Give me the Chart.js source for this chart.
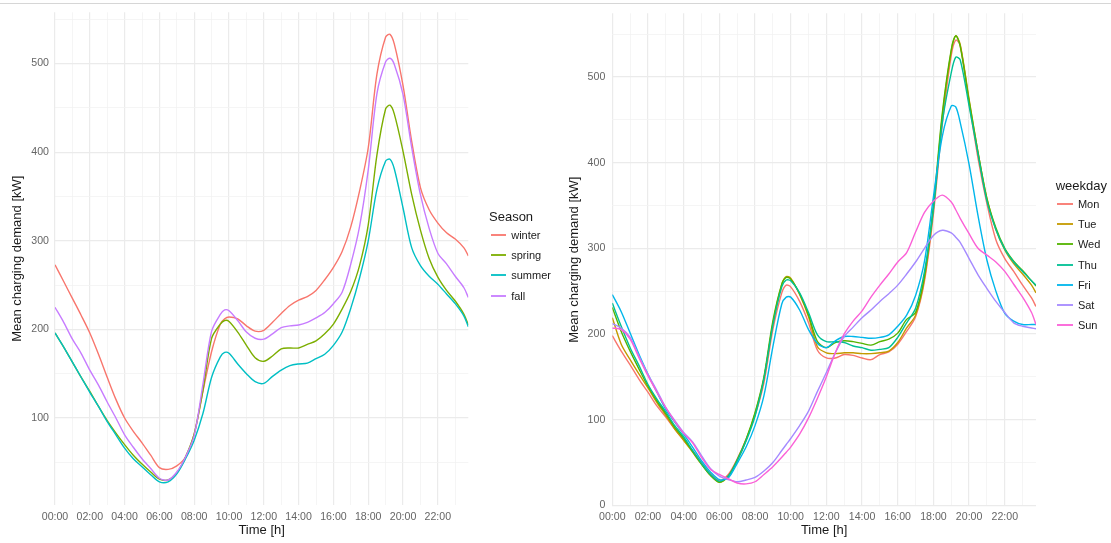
<!DOCTYPE html>
<html>
<head>
<meta charset="utf-8">
<script src="https://cdn.jsdelivr.net/npm/chart.js@4.4.1/dist/chart.umd.min.js"></script>
<style>
  body { margin: 0; background: #fff; font-family: "Liberation Sans", Arial, sans-serif; }
  #wrap { position: relative; width: 1111px; height: 543px; overflow: hidden; }
  #topline { position: absolute; left: 0; top: 3px; width: 1111px; height: 1px; background: #d6d6d6; }
  canvas { position: absolute; top: 0; }
  .legend { position: absolute; color: #1a1a1a; }
  .legend .title { font-size: 13px; height: 17px; line-height: 17px; white-space: nowrap; }
  .legend ul { list-style: none; margin: 0; padding: 0; }
  .legend li { display: flex; align-items: center; font-size: 11px; white-space: nowrap; }
  .legend .key { display: inline-block; width: 15.5px; height: 2px; margin-left: 1.7px; margin-right: 5px; opacity: 0.9; }
</style>
</head>
<body>
<div id="wrap">
  <div id="topline"></div>
  <canvas id="seasonChart" width="560" height="543" style="left:0px"></canvas>
  <canvas id="weekdayChart" width="551" height="543" style="left:560px"></canvas>
  <div id="seasonLegend" class="legend" style="left:489px; top:207.5px"></div>
  <div id="weekdayLegend" class="legend" style="left:1055.7px; top:177px"></div>
</div>
<script>
'use strict';
// time of day in hours
let hours = [0, 0.5, 1, 1.5, 2, 2.5, 3, 3.5, 4, 4.5,
    5, 5.5, 6, 6.5, 7, 7.5, 8, 8.5, 9, 9.5, 9.75,
    10, 10.5, 11, 11.5, 12, 12.5, 13, 13.5, 14, 14.5,
    15, 15.5, 16, 16.5, 17, 17.5, 18, 18.5, 19, 19.25,
    19.5, 20, 20.5, 21, 21.5, 22, 22.5, 23, 23.5, 23.75]

let hourTicks = [0, 1, 2, 3, 4, 5, 6, 7, 8, 9, 10, 11, 12, 13, 14, 15, 16, 17, 18, 19, 20, 21, 22, 23]
let hourLabels = ['00:00', '', '02:00', '', '04:00', '', '06:00', '', '08:00', '', '10:00', '',
    '12:00', '', '14:00', '', '16:00', '', '18:00', '', '20:00', '', '22:00', '']

let seasonYTicks = [50, 100, 150, 200, 250, 300, 350, 400, 450, 500, 550]
let seasonYLabels = ['', '100', '', '200', '', '300', '', '400', '', '500', '']
let weekdayYTicks = [0, 50, 100, 150, 200, 250, 300, 350, 400, 450, 500, 550]
let weekdayYLabels = ['0', '', '100', '', '200', '', '300', '', '400', '', '500', '']

// Season panel
let seasonNames = ['winter', 'spring', 'summer', 'fall']
let winter = [273, 254, 235, 216, 196, 172, 146, 121, 100, 85,
    72, 58, 44, 42, 46, 56, 82, 130, 175, 206, 212,
    214, 212, 204, 198, 199, 208, 218, 227, 233, 237,
    244, 256, 270, 288, 316, 356, 405, 488, 530, 533,
    522, 475, 412, 360, 335, 320, 309, 302, 292, 283]
let spring = [196, 180, 163, 146, 130, 113, 97, 83, 70, 58,
    48, 39, 31, 30, 38, 56, 82, 131, 190, 206, 210,
    209, 197, 182, 168, 164, 170, 178, 179, 179, 183,
    187, 195, 206, 223, 243, 272, 318, 397, 449, 453,
    443, 401, 352, 312, 280, 259, 244, 232, 217, 205]
let summer = [196, 180, 163, 146, 129, 113, 96, 81, 66, 54,
    45, 36, 28, 28, 37, 54, 75, 105, 146, 169, 174,
    173, 161, 150, 141, 139, 147, 154, 159, 161, 162,
    167, 172, 182, 197, 224, 258, 300, 358, 390, 392,
    381, 337, 292, 272, 260, 251, 240, 229, 215, 203]
let fall = [225, 208, 189, 173, 154, 137, 118, 100, 81, 67,
    54, 43, 32, 30, 39, 56, 80, 138, 198, 217, 222,
    221, 210, 197, 190, 189, 195, 202, 204, 205, 208,
    213, 219, 229, 242, 274, 316, 380, 466, 502, 506,
    499, 465, 405, 352, 314, 286, 274, 260, 247, 236]
let seasonColors = ['#F8766D', '#7CAE00', '#00BFC4', '#C77CFF']

// weekday panel
let weekdayNames = ['Mon', 'Tue', 'Wed', 'Thu', 'Fri', 'Sat', 'Sun']
let mon = [198, 180, 164, 147, 132, 116, 103, 89, 76, 64,
    50, 37, 29, 36, 54, 77, 105, 143, 205, 248, 257,
    255, 238, 213, 181, 172, 172, 176, 175, 172, 170,
    176, 179, 188, 203, 220, 262, 340, 445, 525, 543,
    537, 470, 405, 352, 310, 288, 273, 257, 242, 232]
let tue = [219, 188, 170, 153, 137, 120, 105, 89, 76, 62,
    48, 35, 27, 34, 52, 76, 107, 148, 212, 258, 267,
    265, 246, 220, 185, 178, 177, 178, 178, 177, 177,
    178, 180, 190, 207, 222, 265, 346, 454, 530, 548,
    538, 474, 412, 358, 322, 298, 282, 270, 257, 248]
let wed = [231, 203, 180, 159, 139, 122, 107, 91, 78, 63,
    48, 35, 27, 34, 53, 77, 108, 150, 215, 258, 266,
    264, 247, 222, 191, 184, 190, 192, 191, 189, 187,
    191, 194, 201, 217, 225, 268, 350, 458, 532, 548,
    536, 472, 412, 358, 324, 300, 285, 274, 262, 256]
let thu = [236, 209, 184, 163, 141, 124, 109, 93, 80, 64,
    49, 36, 28, 34, 52, 75, 104, 148, 210, 255, 263,
    262, 248, 225, 199, 191, 191, 190, 186, 184, 181,
    182, 184, 196, 213, 230, 273, 346, 447, 505, 523,
    520, 466, 410, 355, 322, 299, 284, 273, 262, 257]
let fri = [246, 226, 201, 176, 153, 132, 112, 97, 83, 68,
    52, 39, 30, 32, 49, 68, 93, 128, 185, 235, 243,
    243, 228, 205, 189, 184, 192, 197, 197, 196, 195,
    196, 199, 209, 222, 245, 285, 360, 431, 466, 465,
    447, 398, 338, 286, 250, 224, 215, 211, 211, 211]
let sat = [212, 207, 196, 174, 153, 134, 114, 99, 85, 74,
    58, 43, 34, 30, 27.5, 29.5, 32.5, 40, 50, 64, 71,
    78, 93, 110, 133, 155, 178, 197, 208, 219, 228,
    238, 247, 257, 270, 284, 300, 315, 321, 318, 313,
    307, 288, 269, 253, 238, 225, 213, 209, 207, 206]
let sun = [207, 205, 194, 172, 151, 132, 114, 98, 84, 73,
    56, 42, 36, 31, 26, 25, 27.5, 36, 45, 56, 62,
    68, 83, 102, 125, 150, 178, 200, 215, 227, 243,
    257, 270, 284, 295, 319, 342, 355, 362, 354, 345,
    335, 317, 300, 292, 284, 273, 258, 243, 225, 211]
let weekdayColors = ['#F8766D', '#C49A00', '#53B400', '#00C094', '#00B6EB', '#A58AFF', '#FB61D7']


// legend drawn as html next to each canvas
const htmlLegend = {
    id: 'htmlLegend',
    afterUpdate(chart, args, opts) {
        let box = document.getElementById(opts.containerID)
        box.innerHTML = ''
        let title = document.createElement('div')
        title.className = 'title'
        title.textContent = opts.title
        box.appendChild(title)
        let ul = document.createElement('ul')
        chart.data.datasets.forEach(function (ds) {
            let li = document.createElement('li')
            li.style.height = opts.rowHeight + 'px'
            let key = document.createElement('span')
            key.className = 'key'
            key.style.background = ds.borderColor
            let txt = document.createElement('span')
            txt.textContent = ds.label
            li.appendChild(key)
            li.appendChild(txt)
            ul.appendChild(li)
        })
        box.appendChild(ul)
    }
}

function buildSets(names, series, colors) {
    let sets = []
    for (let i = 0; i < names.length; i++) {
        sets.push({
            label: names[i],
            data: hours.map((h, j) => ({ x: h, y: series[i][j] })),
            borderColor: colors[i],
            backgroundColor: colors[i],
            order: names.length - i
        })
    }
    return sets
}

function gridColor(isMajor) {
    return isMajor ? '#EBEBEB' : '#F3F3F3'
}

function makeChart(id, sets, c) {
    return new Chart(document.getElementById(id), {
        type: 'line',
        data: { datasets: sets },
        options: {
            responsive: false,
            animation: false,
            devicePixelRatio: 1,
            layout: { padding: c.padding },
            elements: {
                point: { radius: 0 },
                line: { borderWidth: 1.4, tension: 0.3 }
            },
            plugins: {
                legend: { display: false },
                tooltip: { enabled: false },
                htmlLegend: { containerID: c.legendId, title: c.legendTitle, rowHeight: c.rowHeight }
            },
            scales: {
                x: {
                    type: 'linear',
                    min: 0,
                    max: 23.75,
                    afterBuildTicks: ax => { ax.ticks = hourTicks.map(v => ({ value: v })) },
                    afterFit: ax => { ax.height = c.xHeight },
                    border: { display: false },
                    grid: {
                        drawTicks: false,
                        color: ctx => gridColor(ctx.tick && ctx.tick.value % 2 === 0),
                        lineWidth: ctx => (ctx.tick && ctx.tick.value % 2 === 0) ? 1.2 : 0.8
                    },
                    ticks: {
                        autoSkip: false,
                        maxRotation: 0,
                        padding: c.xPad,
                        color: '#666666',
                        font: { family: 'Liberation Sans', size: 10.6 },
                        callback: (v, i) => hourLabels[i]
                    },
                    title: {
                        display: true,
                        text: 'Time [h]',
                        color: '#1a1a1a',
                        font: { family: 'Liberation Sans', size: 13 },
                        padding: { top: 0, bottom: 5.2 }
                    }
                },
                y: {
                    min: c.yMin,
                    max: c.yMax,
                    afterBuildTicks: ax => { ax.ticks = c.yTicks.map(v => ({ value: v })) },
                    afterFit: ax => { ax.width = c.yWidth },
                    border: { display: false },
                    grid: {
                        drawTicks: false,
                        color: ctx => gridColor(ctx.tick && ctx.tick.value % 100 === 0),
                        lineWidth: ctx => (ctx.tick && ctx.tick.value % 100 === 0) ? 1.2 : 0.8
                    },
                    ticks: {
                        padding: c.yPad,
                        color: '#666666',
                        font: { family: 'Liberation Sans', size: 10.6 },
                        callback: (v, i) => c.yLabels[i]
                    },
                    title: {
                        display: true,
                        text: 'Mean charging demand [kW]',
                        color: '#1a1a1a',
                        font: { family: 'Liberation Sans', size: 13 },
                        padding: { top: c.yTitleTop, bottom: 0 }
                    }
                }
            }
        },
        plugins: [htmlLegend]
    })
}

makeChart('seasonChart', buildSets(seasonNames, [winter, spring, summer, fall], seasonColors), {
    padding: { left: 0, top: 10.7, right: 91.7, bottom: 0 },
    yMin: 1.8, yMax: 557.8,
    yTicks: seasonYTicks, yLabels: seasonYLabels,
    yWidth: 55, xHeight: 38, xPad: 5.3, yPad: 6, yTitleTop: 10,
    legendId: 'seasonLegend', legendTitle: 'Season', rowHeight: 20.3
})

makeChart('weekdayChart', buildSets(weekdayNames, [mon, tue, wed, thu, fri, sat, sun], weekdayColors), {
    padding: { left: 0, top: 10, right: 75, bottom: 0 },
    yMin: -0.8, yMax: 574.2,
    yTicks: weekdayYTicks, yLabels: weekdayYLabels,
    yWidth: 52.3, xHeight: 37, xPad: 4.3, yPad: 7, yTitleTop: 6.5,
    legendId: 'weekdayLegend', legendTitle: 'weekday', rowHeight: 20.2
})
</script>
</body>
</html>
